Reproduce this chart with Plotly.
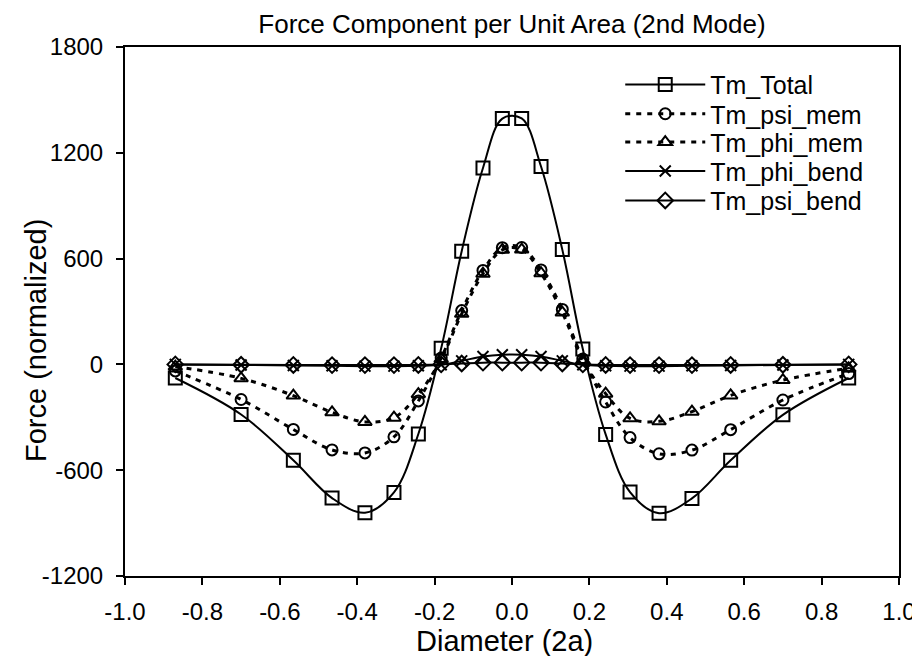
import plotly.graph_objects as go

# ---------------- data ----------------
x = [-0.870, -0.700, -0.565, -0.465, -0.380, -0.305, -0.242, -0.183, -0.130, -0.075, -0.025,
     0.025, 0.075, 0.130, 0.183, 0.242, 0.305, 0.380, 0.465, 0.565, 0.700, 0.870]

tm_total = [-77, -284, -544, -758, -841, -726, -395, 91, 642, 1114, 1394,
            1395, 1122, 651, 87, -397, -724, -844, -760, -544, -286, -77]
tm_psi_mem = [-37, -199, -369, -485, -502, -411, -207, 36, 305, 533, 662,
              663, 536, 312, 30, -213, -415, -507, -486, -370, -202, -52]
tm_phi_mem = [-12, -79, -177, -272, -326, -302, -169, 31, 287, 514, 650,
              651, 517, 294, 25, -166, -306, -323, -268, -176, -89, -22]
tm_phi_bend = [0, -3, -6, -8, -10, -10, -8, -2, 20, 45, 55,
               55, 45, 20, -2, -8, -10, -10, -8, -6, -3, 0]
tm_psi_bend = [0, -2, -3, -4, -4, -4, -3, 0, 5, 10, 10,
               10, 10, 5, 0, -3, -4, -4, -4, -3, -2, 0]

x_ticks = [-1.0, -0.8, -0.6, -0.4, -0.2, 0.0, 0.2, 0.4, 0.6, 0.8, 1.0]
y_ticks = [-1200, -600, 0, 600, 1200, 1800]

FONT = "Liberation Sans, Arial, sans-serif"
BLACK = "black"

series = [
    dict(name="Tm_Total", y=tm_total, dash="solid", width=2, symbol="square-open", size=13, legend="legend"),
    dict(name="Tm_psi_mem", y=tm_psi_mem, dash="5px,6px", width=3, symbol="circle-open", size=11, legend="legend2"),
    dict(name="Tm_phi_mem", y=tm_phi_mem, dash="5px,6px", width=3, symbol="triangle-up-open", size=12, legend="legend3"),
    dict(name="Tm_phi_bend", y=tm_phi_bend, dash="solid", width=2, symbol="x-thin-open", size=11, legend="legend4"),
    dict(name="Tm_psi_bend", y=tm_psi_bend, dash="solid", width=2, symbol="diamond-open", size=12, legend="legend5"),
]

fig = go.Figure()
for s in series:
    fig.add_trace(go.Scatter(
        x=x, y=s["y"], name=s["name"], mode="lines+markers",
        line=dict(color=BLACK, width=s["width"], dash=s["dash"], shape="spline", smoothing=1),
        marker=dict(symbol=s["symbol"], size=s["size"], color=BLACK,
                    line=dict(color=BLACK, width=2)),
        legend=s["legend"],
    ))

# plot area pixel geometry
W, H = 920, 656
L, R, T, B = 117, 20, 39, 88
ph = H - T - B
pw = W - L - R


def py(p):
    return (H - B - p) / ph


def px(p):
    return (p - L) / pw


legend_rows = [76.7, 106, 134.3, 163.3, 192.7]
legend_common = dict(x=px(618), xanchor="left", yanchor="middle", bgcolor="rgba(0,0,0,0)",
                     font=dict(family=FONT, size=25, color=BLACK), borderwidth=0,
                     itemwidth=80)

layout_legends = {}
for i, row in enumerate(legend_rows):
    key = "legend" if i == 0 else f"legend{i + 1}"
    layout_legends[key] = dict(legend_common, y=py(row))

fig.update_layout(
    width=W, height=H,
    margin=dict(l=L, r=R, t=T, b=B),
    paper_bgcolor="white", plot_bgcolor="white",
    showlegend=True,
    title=dict(text="Force Component per Unit Area (2nd Mode)", x=0.5, xref="paper",
               y=1 - 16 / H, yref="container", yanchor="middle", xanchor="center",
               font=dict(family=FONT, size=26, color=BLACK)),
    font=dict(family=FONT, color=BLACK),
    **layout_legends,
)

fig.update_xaxes(range=[-1.0, 1.0], tickvals=x_ticks, ticktext=[f"{v:.1f}" for v in x_ticks],
                 showgrid=False, zeroline=False, showline=True, linecolor=BLACK, linewidth=2,
                 mirror=True, ticks="outside", ticklen=7, tickwidth=1.5, tickcolor=BLACK,
                 tickfont=dict(family=FONT, size=24, color=BLACK), ticklabelstandoff=6)
fig.update_yaxes(range=[-1200, 1800], tickvals=y_ticks, ticktext=[str(v) for v in y_ticks],
                 showgrid=False, zeroline=False, showline=True, linecolor=BLACK, linewidth=2,
                 mirror=True, ticks="outside", ticklen=7, tickwidth=1.5, tickcolor=BLACK,
                 tickfont=dict(family=FONT, size=24, color=BLACK), ticklabelstandoff=8)

fig.add_annotation(text="Diameter (2a)", xref="paper", yref="paper",
                   x=px(501), y=py(633), xanchor="center", yanchor="middle",
                   showarrow=False, font=dict(family=FONT, size=29, color=BLACK))
fig.add_annotation(text="Force (normalized)", xref="paper", yref="paper",
                   x=px(27), y=py(333), xanchor="center", yanchor="middle",
                   textangle=-90, showarrow=False, font=dict(family=FONT, size=29, color=BLACK))

fig.write_html("out.html")
